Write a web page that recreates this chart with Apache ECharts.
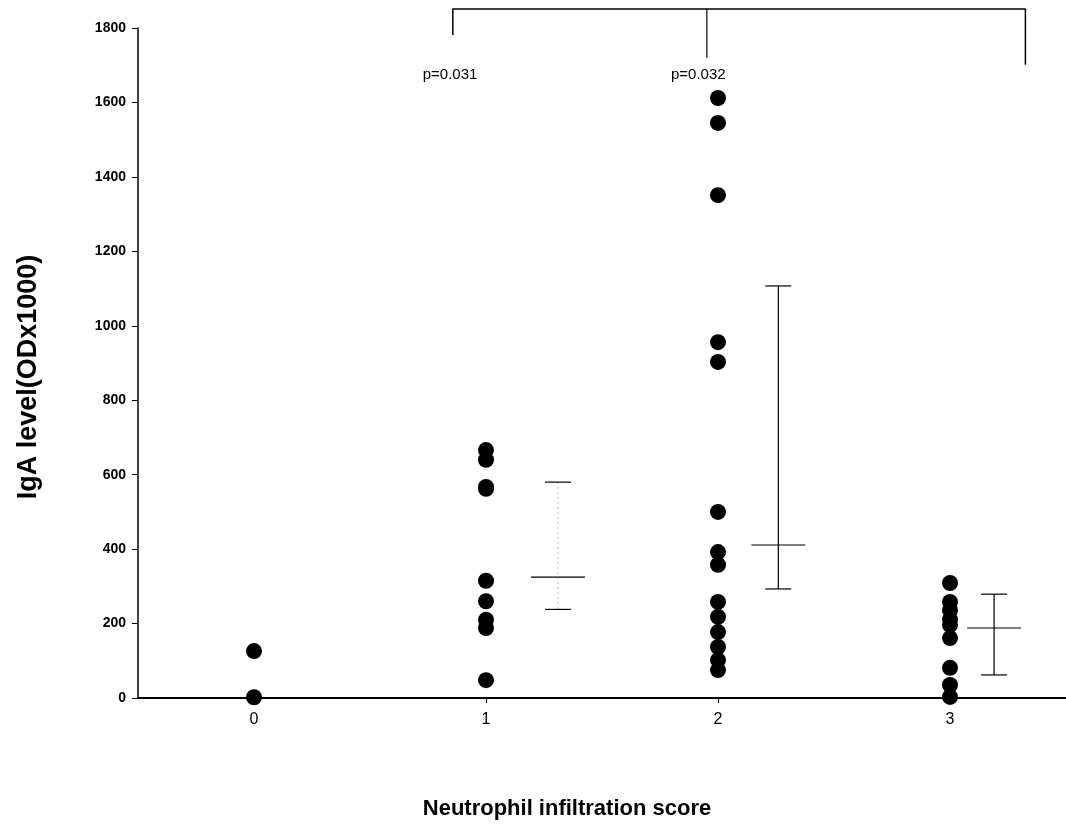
<!DOCTYPE html>
<html>
<head>
<meta charset="utf-8">
<script src="https://cdn.jsdelivr.net/npm/echarts@6/dist/echarts.min.js"></script>
<style>html,body{margin:0;padding:0;background:#fff}#c{width:1066px;height:825px}</style>
</head>
<body>
<div id="c"></div>
<script>
// categories (neutrophil infiltration score)
const categories = [0, 1, 2, 3];
const yTicks = [0, 200, 400, 600, 800, 1000, 1200, 1400, 1600, 1800];
// individual IgA values per score
const score0 = [126, 2];
const score1 = [666, 640, 567, 562, 315, 260, 210, 188, 48];
const score2 = [1612, 1545, 1351, 956, 903, 500, 392, 358, 258, 218, 177, 137, 102, 75];
const score3 = [309, 258, 236, 212, 196, 161, 81, 35, 3];
// summary bars: [x position, low, mean, high]
const summary1 = [1.31, 238, 325, 580];
const summary2 = [2.26, 293, 411, 1107];
const summary3 = [3.19, 62, 188, 279];
// significance brackets
const bracketOuter = [[0.857, 1781], [0.857, 1851], [3.325, 1851], [3.325, 1701]];
const bracketMid = [[1.952, 1851], [1.952, 1720]];
const pLabels = [{name: 'p=0.031', value: [0.845, 1675]}, {name: 'p=0.032', value: [1.915, 1675]}];

const pts = [];
[score0, score1, score2, score3].forEach((arr, i) => arr.forEach(v => pts.push([categories[i], v])));

const chart = echarts.init(document.getElementById('c'), null, {renderer: 'canvas'});
const FONT = 'Liberation Sans, Arial, sans-serif';

function errRender(params, api) {
  const x = api.value(0), lo = api.value(1), mean = api.value(2), hi = api.value(3);
  const pLo = api.coord([x, lo]), pMean = api.coord([x, mean]), pHi = api.coord([x, hi]);
  const cap = 13, mh = 27;
  const faint = params.dataIndex === 0;
  const stroke = {stroke: '#000', lineWidth: 1.2};
  const children = [
    {type: 'line', shape: {x1: pHi[0], y1: pHi[1], x2: pLo[0], y2: pLo[1]},
     style: faint ? {stroke: '#bbb', lineWidth: 1, lineDash: [2, 3]} : stroke},
    {type: 'line', shape: {x1: pHi[0] - cap, y1: pHi[1], x2: pHi[0] + cap, y2: pHi[1]}, style: stroke},
    {type: 'line', shape: {x1: pLo[0] - cap, y1: pLo[1], x2: pLo[0] + cap, y2: pLo[1]}, style: stroke},
    {type: 'line', shape: {x1: pMean[0] - mh, y1: pMean[1], x2: pMean[0] + mh, y2: pMean[1]}, style: stroke}
  ];
  return {type: 'group', children};
}

chart.setOption({
  animation: false,
  backgroundColor: '#fff',
  grid: {left: 138, right: 0, top: 28, bottom: 127, containLabel: false, outerBoundsMode: 'none'},
  xAxis: {
    type: 'value', min: -0.5, max: 3.5,
    name: 'Neutrophil infiltration score', nameLocation: 'middle', nameGap: 100,
    nameTextStyle: {fontFamily: FONT, fontSize: 22, fontWeight: 'bold', color: '#000', padding: [0, 70, 0, 0]},
    splitLine: {show: false},
    axisLine: {onZero: false, lineStyle: {color: '#000', width: 2}},
    axisTick: {customValues: categories, length: 5, lineStyle: {color: '#000'}},
    axisLabel: {customValues: categories, fontFamily: FONT, fontSize: 16, color: '#000', margin: 14}
  },
  yAxis: {
    type: 'value', min: 0, max: 1800, interval: 200,
    name: 'IgA level(ODx1000)', nameLocation: 'middle', nameGap: 96, nameRotate: 90,
    nameTextStyle: {fontFamily: FONT, fontSize: 27, fontWeight: 'bold', color: '#000', padding: [0, 28, 0, 0]},
    splitLine: {show: false},
    axisLine: {show: true, onZero: false, lineStyle: {color: '#000', width: 1.5}},
    axisTick: {show: true, length: 6, lineStyle: {color: '#000'}},
    axisLabel: {fontFamily: FONT, fontSize: 14, fontWeight: 'bold', color: '#000', margin: 12,
      formatter: v => yTicks.indexOf(v) >= 0 ? String(v) : ''}
  },
  series: [
    {type: 'scatter', data: pts, symbol: 'circle', symbolSize: 16,
     itemStyle: {color: '#000', opacity: 1}, clip: false, z: 3},
    {type: 'custom', renderItem: errRender, data: [summary1, summary2, summary3], clip: false, z: 2},
    {type: 'line', data: bracketOuter, showSymbol: false, clip: false,
     lineStyle: {color: '#000', width: 1.5}, silent: true},
    {type: 'line', data: bracketMid, showSymbol: false, clip: false,
     lineStyle: {color: '#000', width: 1.2}, silent: true},
    {type: 'scatter', data: pLabels, symbolSize: 0, clip: false, itemStyle: {opacity: 1},
     label: {show: true, position: 'inside', formatter: p => p.name,
       fontFamily: FONT, fontSize: 15, color: '#000'}}
  ]
});
</script>
</body>
</html>
